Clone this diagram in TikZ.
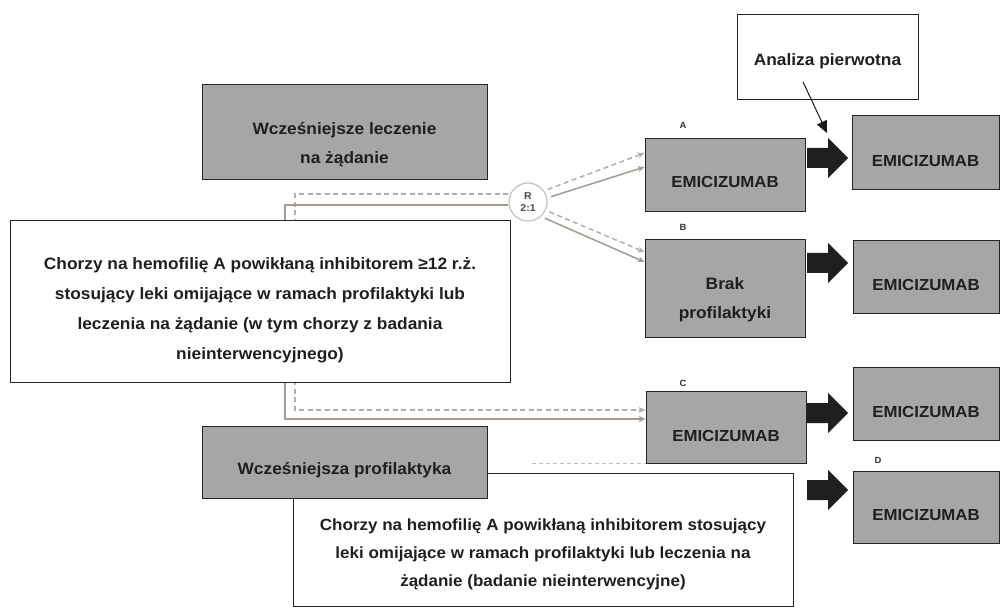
\documentclass[tikz,border=0pt]{standalone}
\usepackage{fontspec}
\setmainfont[FakeStretch=1.05]{Liberation Sans}
\usetikzlibrary{arrows.meta,calc}
\definecolor{boxgray}{HTML}{A6A6A6}
\definecolor{linegray}{HTML}{A39A92}
\definecolor{dashgray}{HTML}{B5ADA6}
\pgfdeclarelayer{bg}
\pgfsetlayers{bg,main}
\newcommand\bigarrow[2]{\fill[bigarr] (#1,#2) ++(0,-10) -- ++(21,0) -- ++(0,-10) -- ++(20,20) -- ++(-20,20) -- ++(0,-10) -- ++(-21,0) -- cycle;}
\begin{document}
\begin{tikzpicture}[x=1pt,y=-1pt,
  gbox/.style={draw=black!85, fill=boxgray, line width=0.9pt, inner sep=0pt},
  wbox/.style={draw=black!85, fill=white, line width=0.9pt, inner sep=0pt},
  txt/.style={font=\bfseries\fontsize{16.5}{29}\selectfont, text=black!88, align=center, inner sep=0pt},
  emi/.style={font=\bfseries\fontsize{16}{29}\selectfont, text=black!88, align=center, inner sep=0pt},
  txtm/.style={font=\bfseries\fontsize{16.5}{30}\selectfont, text=black!88, align=center, inner sep=0pt},
  txtb/.style={font=\bfseries\fontsize{16.2}{28}\selectfont, text=black!88, align=center, inner sep=0pt},
  small/.style={font=\bfseries\fontsize{9}{10}\selectfont, text=black!80, inner sep=0pt},
  rnd/.style={circle, draw=linegray!60, fill=white, line width=1.2pt, minimum size=38, inner sep=0pt,
      font=\bfseries\fontsize{10}{12}\selectfont, align=center, text=black!70},
  solc/.style={draw=linegray, line width=1.5pt},
  dashc/.style={draw=dashgray, line width=1.5pt, dash pattern=on 5pt off 3.5pt},
  tipg/.style={-{Stealth[length=7pt,width=6pt]}},
  bigarr/.style={fill=black!88},
  ]
\begin{pgfonlayer}{bg}
\fill[white] (0,0) rectangle (1001,612);
\end{pgfonlayer}
\useasboundingbox (0,0) rectangle (1001,612);

% randomisation node
\node[rnd] (R) at (528,202) {R\\2:1};

% arm boxes
\node[gbox, minimum width=160, minimum height=73,
      label={[emi,yshift=-7.5pt]center:EMICIZUMAB}] (A) at (725,174.5) {};
\node[gbox, minimum width=160, minimum height=98,
      label={[txt,yshift=-11.5pt]center:Brak\\profilaktyki}] (B) at (725,288) {};
\node[gbox, minimum width=160, minimum height=72,
      label={[emi,yshift=-9pt]center:EMICIZUMAB}] (C) at (726,427) {};

% left boxes
\node[gbox, minimum width=285, minimum height=95,
      label={[txt,yshift=-13pt]center:Wcześniejsze leczenie\\na żądanie}] (prevOD) at (344.5,131.5) {};
\node[wbox, minimum width=500, minimum height=162,
      label={[txtm,yshift=-9pt]center:Chorzy na hemofilię A powikłaną inhibitorem ≥12 r.ż.\\stosujący leki omijające w ramach profilaktyki lub\\leczenia na żądanie (w tym chorzy z badania\\nieinterwencyjnego)}] (main) at (260,301) {};
\node[wbox, minimum width=500, minimum height=133,
      label={[txtb,yshift=-14.5pt]center:Chorzy na hemofilię A powikłaną inhibitorem stosujący\\leki omijające w ramach profilaktyki lub leczenia na\\żądanie (badanie nieinterwencyjne)}] (obs) at (543,539.5) {};
\node[gbox, minimum width=285, minimum height=72,
      label={[txt,yshift=-8pt]center:Wcześniejsza profilaktyka}] (prevP) at (344.5,462) {};

% right boxes
\node[gbox, minimum width=147, minimum height=74,
      label={[emi,yshift=-9pt]center:EMICIZUMAB}] (A2) at (925.5,152) {};
\node[gbox, minimum width=146, minimum height=73,
      label={[emi,yshift=-8.5pt]center:EMICIZUMAB}] (B2) at (926,276.5) {};
\node[gbox, minimum width=146, minimum height=73,
      label={[emi,yshift=-8.5pt]center:EMICIZUMAB}] (C2) at (926,403.5) {};
\node[gbox, minimum width=146, minimum height=72,
      label={[emi,yshift=-8pt]center:EMICIZUMAB}] (D2) at (926,507) {};

% primary analysis
\node[wbox, minimum width=181, minimum height=85,
      label={[txt,yshift=-4.5pt]center:Analiza pierwotna}] (an) at (827.5,56.5) {};
\coordinate (anS) at (803,82);
\coordinate (anE) at (827,133);
\draw[black!90, line width=1pt, -{Triangle[length=12pt,width=11pt]}] (anS) -- (anE);

% arm labels
\node[small] (lA) at (683,125) {A};
\node[small] (lB) at (683,227) {B};
\node[small] (lC) at (683,383) {C};
\node[small] (lD) at (878,460) {D};

% connectors behind the boxes
\begin{pgfonlayer}{bg}
\coordinate (tl1) at (295,194);
\coordinate (bl1) at (295,410);
\coordinate (tl2) at (285,205);
\coordinate (bl2) at (285,419);
\draw[dashc, tipg] (tl1 -| R.west) -- (tl1) -- (bl1) -- (bl1 -| C.west);
\draw[solc, tipg] (tl2 -| R.west) -- (tl2) -- (bl2) -- (bl2 -| C.west);
\draw[dashc, tipg, shorten <=4pt] (R.35) -- ([yshift=21.5pt]A.west);
\draw[solc, tipg, shorten <=4pt] (R.12) -- ([yshift=7.5pt]A.west);
\draw[dashc, tipg, shorten <=4pt] (R.-25) -- ([yshift=36pt]B.west);
\draw[solc, tipg, shorten <=4pt] (R.-48) -- ([yshift=26pt]B.west);
\coordinate (rm1) at (532,463);
\coordinate (rm2) at (795,463);
\draw[dashgray!80, line width=1pt, dash pattern=on 4pt off 3pt] (rm1) -- (rm2);
\end{pgfonlayer}

% big black arrows
\bigarrow{807}{158}
\bigarrow{807}{263}
\bigarrow{807}{413}
\bigarrow{807}{490}
\end{tikzpicture}
\end{document}
